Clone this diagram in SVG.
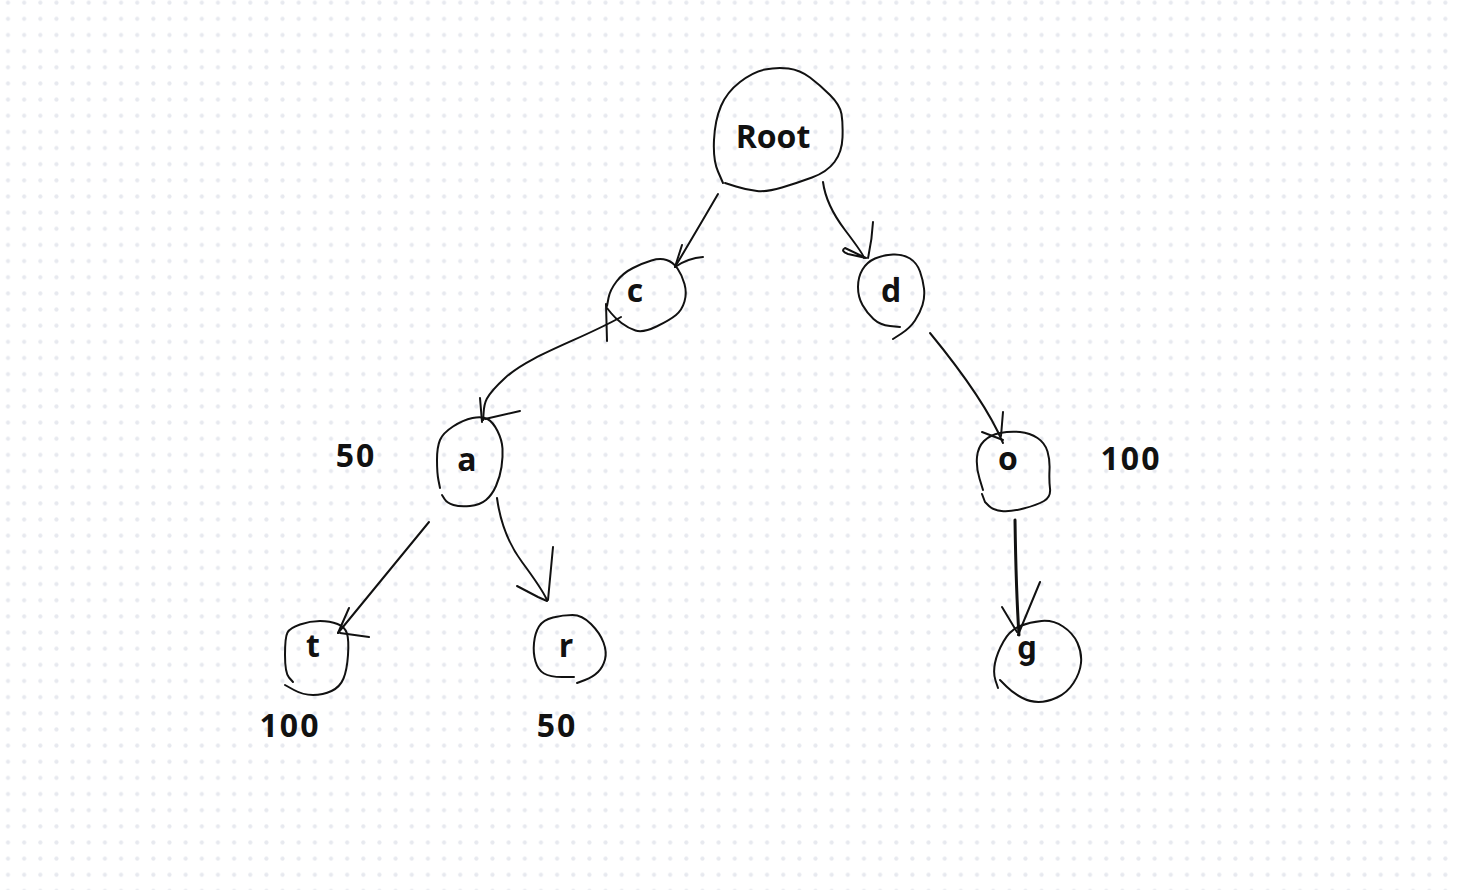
<svg xmlns="http://www.w3.org/2000/svg" width="1458" height="890" viewBox="0 0 1458 890">
<style>
.s{fill:none;stroke:#111;stroke-width:2;stroke-linecap:round;stroke-linejoin:round}
.t{font-family:"Open Sans","Liberation Sans",sans-serif;font-weight:700;font-size:32px;fill:#111;text-anchor:middle}
.n{letter-spacing:2px}
.g1{font-family:Roboto,"Open Sans",sans-serif;font-size:33px}
</style>
<defs>
<pattern id="dots" patternUnits="userSpaceOnUse" x="0" y="-5.4" width="16.15" height="16.15">
<circle cx="8" cy="8" r="2.1" fill="#e7e9ef"/>
</pattern>
</defs>
<rect width="1458" height="890" fill="#fff"/>
<rect width="1458" height="890" fill="url(#dots)"/>
<g id="connectors">
<path class="s" d="M718 194 Q700 225 675 267"/>
<path class="s" d="M682 245 L675 267 Q688 258 703 257"/>
<path class="s" d="M823 182 Q826 205 845 230 T864 258"/>
<path class="s" d="M873 222 Q872 240 868 258 M866 258 L845 248 Q840 251 848 254 L866 258"/>
<path class="s" d="M621 317 C580 340 530 355 505 378 S485 405 483 420"/>
<path class="s" d="M480 398 L482 422 M485 419 L520 411"/>
<path class="s" d="M429 522 L338 633"/>
<path class="s" d="M349 608 L338 633 M340 633 L369 637"/>
<path class="s" d="M497 498 Q502 535 522 562 T547 600"/>
<path class="s" d="M553 547 L548 600 M517 586 L538 597 L547 601"/>
<path class="s" d="M930 333 Q985 400 1003 443"/>
<path class="s" d="M1003 412 L1001 436 M982 432 L1003 440"/>
<path class="s" style="stroke-width:3" d="M1015 520 Q1016 590 1019 635"/>
<path class="s" d="M1040 582 L1018 635 M1002 607 L1017 632"/>
</g>
<g id="node-root">
<path class="s" d="M723 183 L718 171.5 Q713 160 714 140 Q715 120 721 106 Q727 92 740 82 Q753 72 765 69.5 Q777 67 788.5 68.5 Q800 70 810 77.5 Q820 85 830 95 Q840 105 841.5 114 Q843 123 842.5 137.5 Q842 152 834.5 162 Q827 172 812 177.5 Q797 183 782 187.5 Q767 192 757 191 Q747 190 736 186.5 L725 183"/>
<text class="t" x="773" y="148">Root</text>
</g>
<g id="node-c">
<path class="s" d="M607 306 L608.5 298 Q610 290 616.5 281.5 Q623 273 633 268 Q643 263 651.5 260.5 Q660 258 666.5 260 Q673 262 677.5 268.5 Q682 275 684.5 284 Q687 293 684.5 301.5 Q682 310 676 315 Q670 320 656.5 326.5 Q643 333 635.5 330.5 Q628 328 621.5 323 Q615 318 611 313 L607 308"/>
<path class="s" d="M606 304 L607 341"/>
<text class="t" x="635" y="302">c</text>
</g>
<g id="node-d">
<path class="s" d="M900 327 L890 326 Q880 325 873.5 319 Q867 313 862.5 305 Q858 297 858 287 Q858 277 862.5 269.5 Q867 262 875 258.5 Q883 255 893 254.5 Q903 254 910 258.5 Q917 263 920 271.5 Q923 280 924 288.5 Q925 297 922.5 305 Q920 313 915 320.5 Q910 328 901.5 333.5 L893 339"/>
<text class="t" x="891" y="302">d</text>
</g>
<g id="node-a">
<path class="s" d="M440 488 L438.5 480.5 Q437 473 437 460 Q437 447 440 440 Q443 433 453 426.5 Q463 420 472.5 418 Q482 416 487.5 419 Q493 422 497.5 431 Q502 440 502.5 448.5 Q503 457 501.5 467 Q500 477 496 486 Q492 495 486 500 Q480 505 470 506 Q460 507 453.5 505 Q447 503 444.5 499 L442 495"/>
<text class="t" x="467" y="471">a</text>
</g>
<g id="node-o">
<path class="s" d="M983 490 L979.5 478.5 Q976 467 977 457 Q978 447 984 441 Q990 435 1000 433 Q1010 431 1020 432 Q1030 433 1037.5 438 Q1045 443 1047.5 451.5 Q1050 460 1049.5 470 Q1049 480 1050 488.5 Q1051 497 1044 501 Q1037 505 1023.5 508.5 Q1010 512 1001.5 511 Q993 510 989 506 L985 502 L982 494"/>
<text class="t" x="1008" y="470">o</text>
</g>
<g id="node-t">
<path class="s" d="M285 685 L294 690 Q303 695 313 695 Q323 695 331.5 691 Q340 687 343.5 678.5 Q347 670 348 655 Q349 640 347 633.5 Q345 627 337.5 624 Q330 621 320 621 Q310 621 300 624.5 Q290 628 287.5 632.5 Q285 637 285 655 Q285 673 289 677.5 L293 682"/>
<text class="t" x="313" y="657">t</text>
</g>
<g id="node-r">
<path class="s" d="M574 677 L562 677 Q550 677 544 673.5 Q538 670 535.5 661.5 Q533 653 534 643 Q535 633 539 626.5 Q543 620 553 617.5 Q563 615 572.5 615 Q582 615 591 624 Q600 633 603.5 642.5 Q607 652 605 659.5 Q603 667 598 672 Q593 677 585 680 L577 683"/>
<text class="t" x="566" y="657">r</text>
</g>
<g id="node-g">
<path class="s" d="M998 688 L995.5 680.5 Q993 673 995 663 Q997 653 1003.5 641.5 Q1010 630 1020 626 Q1030 622 1041.5 621 Q1053 620 1063 626.5 Q1073 633 1077.5 643 Q1082 653 1081 663 Q1080 673 1073.5 683 Q1067 693 1057 697.5 Q1047 702 1038.5 702 Q1030 702 1021.5 697.5 Q1013 693 1006.5 686.5 L1000 680"/>
<text class="t g1" x="1027" y="659">g</text>
</g>
<g id="labels">
<text class="t n" x="356" y="467">50</text>
<text class="t n" x="1131" y="470">100</text>
<text class="t n" x="290" y="737">100</text>
<text class="t n" x="557" y="737">50</text>
</g>
</svg>
